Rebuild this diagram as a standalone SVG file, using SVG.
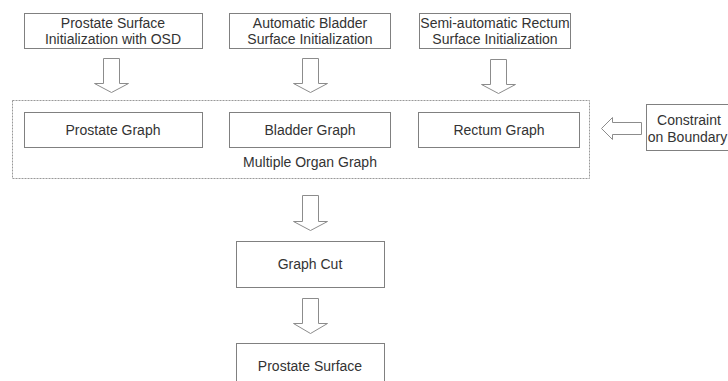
<svg xmlns="http://www.w3.org/2000/svg" width="728" height="381" viewBox="0 0 728 381">
<style>
.box{fill:#fff;stroke:#808080;stroke-width:1}
.cont{fill:none;stroke:#999;stroke-width:1;stroke-dasharray:2,1}
.arr{fill:#fff;stroke:#8c8c8c;stroke-width:1}
text{font-family:"Liberation Sans",Arial,sans-serif;font-size:14px;fill:#333;text-anchor:middle}
</style>
<rect width="728" height="381" fill="#fff"/>
<g id="container">
<rect class="cont" x="12.5" y="100.5" width="577" height="78"/>
<text x="310" y="167">Multiple Organ Graph</text>
</g>
<g id="init-prostate">
<rect class="box" x="24.5" y="13.5" width="178" height="35"/>
<text x="113" y="28">Prostate Surface</text>
<text x="113" y="44">Initialization with OSD</text>
</g>
<g id="init-bladder">
<rect class="box" x="229.5" y="13.5" width="161" height="35"/>
<text x="310" y="28">Automatic Bladder</text>
<text x="310" y="44">Surface Initialization</text>
</g>
<g id="init-rectum">
<rect class="box" x="419.5" y="13.5" width="151" height="35"/>
<text x="495" y="28">Semi-automatic Rectum</text>
<text x="495" y="44">Surface Initialization</text>
</g>
<g id="prostate-graph">
<rect class="box" x="24.5" y="112.5" width="178" height="35"/>
<text x="113" y="135">Prostate Graph</text>
</g>
<g id="bladder-graph">
<rect class="box" x="229.5" y="112.5" width="161" height="35"/>
<text x="310" y="135">Bladder Graph</text>
</g>
<g id="rectum-graph">
<rect class="box" x="418.5" y="112.5" width="161" height="35"/>
<text x="499" y="135">Rectum Graph</text>
</g>
<g id="constraint">
<rect class="box" x="646.5" y="104.5" width="90" height="46"/>
<text x="689" y="125">Constraint</text>
<text x="687.5" y="142">on Boundary</text>
</g>
<g id="graph-cut">
<rect class="box" x="236.5" y="241.5" width="148" height="46"/>
<text x="310" y="269">Graph Cut</text>
</g>
<g id="prostate-surface">
<rect class="box" x="236.5" y="343.5" width="148" height="46"/>
<text x="310" y="371">Prostate Surface</text>
</g>
<g id="connectors">
<path class="arr" d="M103.5,58.5 H119.5 V83.5 H128.5 L111.5,92.5 L94.5,83.5 H103.5 Z"/>
<path class="arr" d="M302.5,58.5 H318.5 V83.5 H327.5 L310.5,92.5 L293.5,83.5 H302.5 Z"/>
<path class="arr" d="M490.5,59.5 H506.5 V84.5 H515.5 L498.5,93.5 L481.5,84.5 H490.5 Z"/>
<path class="arr" d="M302.5,195.5 H318.5 V221.5 H327.5 L310.5,230.5 L293.5,221.5 H302.5 Z"/>
<path class="arr" d="M302.5,298.5 H318.5 V323.5 H327.5 L310.5,333.5 L293.5,323.5 H302.5 Z"/>
<path class="arr" d="M641.5,122.5 V134.5 H612.5 V139.5 L601.5,128.5 L612.5,117.5 V122.5 Z"/>
</g>
</svg>
